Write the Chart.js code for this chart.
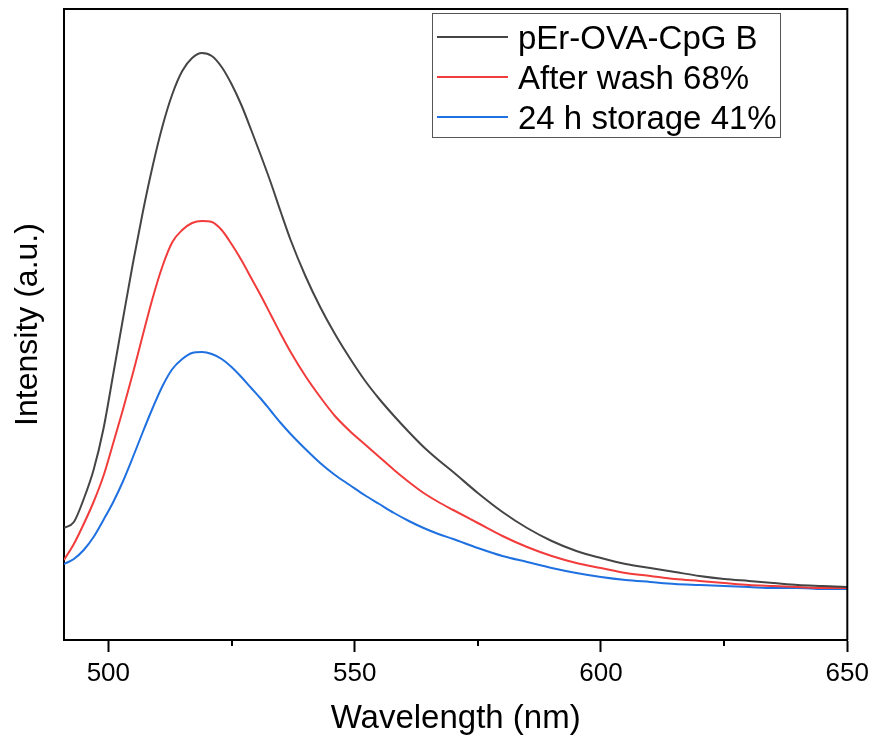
<!DOCTYPE html>
<html lang="en">
<head>
    <meta charset="UTF-8">
    <title>Emission spectra</title>
    <script src="https://cdn.jsdelivr.net/npm/chart.js@4"></script>
    <style>
        html, body { margin: 0; padding: 0; background: #fff; }
        .chart-box { width: 875px; height: 742px; }
    </style>
</head>
<body>
<div class="chart-box"><canvas id="spectrumChart" width="875" height="742"></canvas></div>
<script>
    // wavelength grid (nm) and intensities (a.u.)
    const wavelengths = [491, 493, 495, 497, 499, 501, 503, 505, 507, 509, 511, 513, 515, 517, 519, 521, 523, 525, 527, 529,
        531, 533, 535, 537, 540, 543, 546, 549, 552, 555, 558, 561, 564, 567, 570, 575, 580, 585, 590, 595,
        600, 605, 610, 615, 620, 625, 630, 635, 640, 645, 650];
    const pristine = [112, 118, 141, 170, 211, 266, 322, 377, 428, 474, 514, 546, 569, 582, 587, 584, 573, 556, 535, 510,
        484, 457, 428, 400, 364, 333, 306, 282, 260, 241, 224, 208, 193, 180, 168, 147, 128, 112, 99, 89,
        82, 76, 72, 68, 64, 61, 59, 57, 55, 54, 53];
    const afterWash = [80, 96, 116, 138, 164, 197, 231, 267, 305, 342, 374, 398, 410, 417, 419, 418, 410, 396, 380, 362,
        344, 325, 306, 288, 264, 243, 224, 209, 196, 183, 170, 158, 147, 138, 130, 117, 104, 93, 84, 77,
        72, 67, 64, 61, 59, 57, 55, 54, 53, 52, 52];
    const storage24h = [76, 81, 90, 103, 120, 138, 159, 183, 208, 232, 254, 271, 281, 287, 288, 286, 281, 273, 263, 252,
        241, 229, 217, 206, 191, 177, 165, 155, 145, 136, 127, 119, 112, 106, 101, 92, 84, 78, 72, 67,
        63, 60, 58, 56, 55, 54, 53, 52, 52, 51, 51];

    const xTickValues = [500, 550, 600, 650];
    const xMinorTicks = [525, 575, 625];
    const seriesLabels = ['pEr-OVA-CpG B', 'After wash 68%', '24 h storage 41%'];
    const seriesColors = ['#454545', '#f23c3c', '#1f70e0'];

    const FONT = "'Liberation Sans', Arial, sans-serif";
    Chart.defaults.font.family = FONT;
    Chart.defaults.color = '#000';

    function toPoints(ys) {
        return wavelengths.map((w, i) => ({ x: w, y: ys[i] }));
    }

    // box frame, minor ticks and the legend inside the plot
    const decorPlugin = {
        id: 'decor',
        afterDraw(chart) {
            const ctx = chart.ctx;
            const area = chart.chartArea;
            const xs = chart.scales.x;
            ctx.save();
            ctx.strokeStyle = '#000';
            ctx.lineWidth = 2;
            ctx.beginPath();
            ctx.moveTo(area.left, area.top);
            ctx.lineTo(area.right, area.top);
            ctx.lineTo(area.right, area.bottom);
            ctx.stroke();

            xMinorTicks.forEach(v => {
                const px = Math.round(xs.getPixelForValue(v));
                ctx.beginPath();
                ctx.moveTo(px, area.bottom);
                ctx.lineTo(px, area.bottom + 6);
                ctx.stroke();
            });

            // legend
            ctx.lineWidth = 1;
            ctx.strokeStyle = '#555';
            ctx.strokeRect(432.5, 13.5, 348, 124);
            ctx.font = '33px ' + FONT;
            ctx.textBaseline = 'alphabetic';
            ctx.fillStyle = '#000';
            chart.data.datasets.forEach((ds, i) => {
                const y = 37 + i * 40;
                ctx.strokeStyle = ds.borderColor;
                ctx.lineWidth = 2;
                ctx.beginPath();
                ctx.moveTo(437, y);
                ctx.lineTo(508, y);
                ctx.stroke();
                ctx.fillText(ds.label, 518, y + 12);
            });
            ctx.restore();
        }
    };

    const ctx = document.getElementById('spectrumChart').getContext('2d');
    new Chart(ctx, {
        type: 'line',
        data: {
            datasets: [pristine, afterWash, storage24h].map((ys, i) => ({
                label: seriesLabels[i],
                data: toPoints(ys),
                borderColor: seriesColors[i],
                borderWidth: 2,
                pointRadius: 0,
                fill: false,
                cubicInterpolationMode: 'monotone'
            }))
        },
        options: {
            responsive: false,
            animation: false,
            layout: { padding: { top: 9, right: 27, left: 0, bottom: 0 } },
            plugins: {
                legend: { display: false },
                tooltip: { enabled: false }
            },
            scales: {
                x: {
                    type: 'linear',
                    min: 491,
                    max: 650,
                    afterBuildTicks: scale => {
                        scale.ticks = xTickValues.map(v => ({ value: v }));
                    },
                    afterFit: scale => { scale.height = 102; },
                    ticks: {
                        font: { size: 26 },
                        padding: 6,
                        maxRotation: 0
                    },
                    grid: {
                        drawOnChartArea: false,
                        drawTicks: true,
                        tickLength: 12,
                        tickWidth: 2,
                        tickColor: '#000'
                    },
                    border: { display: true, color: '#000', width: 2 },
                    title: {
                        display: true,
                        text: 'Wavelength (nm)',
                        font: { size: 33 },
                        padding: { top: 0, bottom: 3 }
                    }
                },
                y: {
                    min: 0,
                    max: 631,
                    afterFit: scale => { scale.width = 64; },
                    ticks: { display: false },
                    grid: { display: false },
                    border: { display: true, color: '#000', width: 2 },
                    title: {
                        display: true,
                        text: 'Intensity (a.u.)',
                        font: { size: 32 },
                        padding: { top: 9, bottom: 0 }
                    }
                }
            }
        },
        plugins: [decorPlugin]
    });
</script>
</body>
</html>
